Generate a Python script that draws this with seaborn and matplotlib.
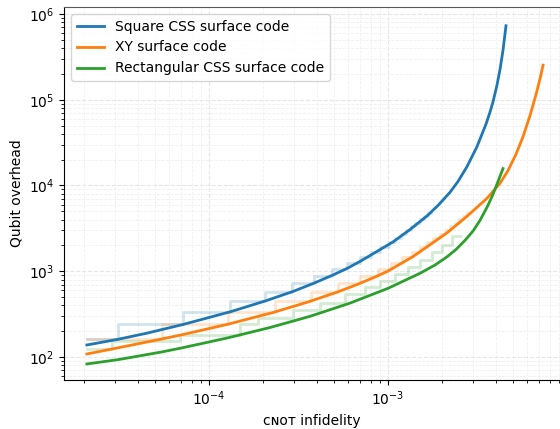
import matplotlib
matplotlib.use("Agg")
import matplotlib.pyplot as plt
import numpy as np
import pandas as pd
import seaborn as sns

# ---------------- data ----------------
series_names = ["Square CSS surface code", "XY surface code", "Rectangular CSS surface code"]
series_colors = ["#1f77b4", "#ff7f0e", "#2ca02c"]

# smooth curves: CNOT infidelity -> qubit overhead
square_p = [2.08e-5, 3.11e-5, 4.503e-5, 7.13e-5, 1.327e-4, 2.08e-4, 2.96e-4, 3.86e-4, 4.99e-4,
            5.977e-4, 7.066e-4, 1.066e-3, 1.327e-3, 1.651e-3, 1.902e-3, 2.22e-3, 2.46e-3,
            2.762e-3, 3.142e-3, 3.527e-3, 3.714e-3, 3.86e-3, 4.063e-3, 4.224e-3, 4.39e-3,
            4.563e-3]
square_q = [138, 160.9, 189.5, 238.7, 338.4, 452.3, 583, 725.5, 914,
            1091, 1320, 2193, 3060, 4410, 5838, 8321, 11120,
            16560, 28350, 51860, 71590, 94150, 147800, 224700, 376300,
            728600]

xy_p = [2.08e-5, 3.11e-5, 5.46e-5, 7.13e-5, 1.276e-4, 2.278e-4, 3.57e-4, 5.19e-4, 6.80e-4,
        8.45e-4, 1.0e-3, 1.38e-3, 2.14e-3, 2.76e-3, 3.57e-3, 4.22e-3, 4.68e-3, 5.19e-3,
        5.68e-3, 6.21e-3, 6.71e-3, 7.07e-3, 7.35e-3]
xy_q = [108.4, 128.0, 162.2, 182.5, 241, 330, 437.3, 569.7, 706.3,
        855, 1004, 1482, 2808, 4362, 7071, 10565, 14900, 23140,
        37030, 65070, 114400, 175800, 252600]

rect_p = [2.08e-5, 3.11e-5, 5.46e-5, 7.13e-5, 1.276e-4, 2.19e-4, 3.666e-4, 6.13e-4, 1.0e-3,
          1.51e-3, 1.83e-3, 2.136e-3, 2.398e-3, 2.69e-3, 2.99e-3, 3.266e-3, 3.57e-3,
          3.811e-3, 4.063e-3, 4.39e-3]
rect_q = [82.9, 93.1, 114.5, 128.2, 167.2, 220.4, 297.8, 424.4, 631.7,
          946.4, 1181, 1471, 1792, 2283, 2954, 3916, 5545,
          7399, 10350, 15740]

# faint staircases (integer code distances): step edges and levels
square_step_p = [2.08e-5, 3.11e-5, 7.2e-5, 1.318e-4, 2.068e-4, 2.928e-4, 3.86e-4, 4.897e-4,
                 5.902e-4, 6.976e-4, 8.035e-4, 9.02e-4, 1.013e-3, 1.101e-3, 1.182e-3, 1.261e-3,
                 1.344e-3, 1.424e-3, 1.51e-3, 1.589e-3, 1.673e-3, 1.739e-3]
square_step_q = [161, 241, 337, 449, 577, 721, 881, 1057,
                 1249, 1457, 1681, 1921, 2177, 2449, 2737, 3041,
                 3361, 3697, 4049, 4417, 4801, 4801]

xy_step_p = [2.08e-5, 5.46e-5, 1.276e-4, 2.351e-4, 3.704e-4, 5.277e-4, 6.976e-4, 8.748e-4,
             1.043e-3, 1.197e-3, 1.362e-3, 1.503e-3, 1.645e-3, 1.793e-3, 1.942e-3, 2.09e-3,
             2.22e-3, 2.356e-3, 2.493e-3, 2.624e-3, 2.76e-3, 2.871e-3]
xy_step_q = [161, 241, 337, 449, 577, 721, 881, 1057,
             1249, 1457, 1681, 1921, 2177, 2449, 2737, 3041,
             3361, 3697, 4049, 4417, 4801, 4801]

rect_step_p = [2.08e-5, 2.86e-5, 6.89e-5, 1.49e-4, 1.878e-4, 2.96e-4, 4.17e-4, 5.75e-4, 7.44e-4,
               9.02e-4, 1.094e-3, 1.293e-3, 1.51e-3, 1.761e-3, 2.003e-3, 2.277e-3, 2.52e-3]
rect_step_q = [125, 153, 181, 241, 285, 353, 425, 545, 655,
               769, 929, 1121, 1353, 1679, 2025, 2575, 2575]

x_label = "ᴄɴᴏᴛ infidelity"
y_label = "Qubit overhead"

# ---------------- figure ----------------
plt.rcParams["font.family"] = ["DejaVu Sans"]

fig = plt.figure(figsize=(5.6, 4.29), dpi=100)
ax = fig.add_axes([64 / 560, 1 - 380 / 429, 1 - 64 / 560, (380 - 7) / 429])

curves = pd.concat([
    pd.DataFrame({"p": square_p, "q": square_q, "code": series_names[0]}),
    pd.DataFrame({"p": xy_p, "q": xy_q, "code": series_names[1]}),
    pd.DataFrame({"p": rect_p, "q": rect_q, "code": series_names[2]}),
])

steps = [(square_step_p, square_step_q), (xy_step_p, xy_step_q), (rect_step_p, rect_step_q)]
for (sp, sq), c in zip(steps, series_colors):
    sns.lineplot(x=sp, y=sq, ax=ax, color=c, alpha=0.2, lw=2, drawstyle="steps-post",
                 estimator=None, legend=False, zorder=2)

sns.lineplot(data=curves, x="p", y="q", hue="code", hue_order=series_names,
             palette=series_colors, lw=2, estimator=None, ax=ax, zorder=3)

ax.set_xscale("log")
ax.set_yscale("log")
ax.set_xlim(1.55e-5, 9.14e-3)
ax.set_ylim(53.9, 1.206e6)

ax.grid(True, which="major", color="0.9", lw=0.8, ls="--")
ax.grid(True, which="minor", color="0.94", lw=0.6, ls="--")
ax.set_axisbelow(True)

ax.spines["right"].set_visible(False)
ax.spines["top"].set_color("0.35")
ax.tick_params(which="major", direction="out", length=3.5, width=0.8, labelsize=10)
ax.tick_params(which="minor", direction="out", length=2, width=0.6)

ax.set_xlabel(x_label, fontsize=10)
ax.set_ylabel(y_label, fontsize=10)

handles, labels = ax.get_legend_handles_labels()
keep = [(h, l) for h, l in zip(handles, labels) if l in series_names]
ax.legend([h for h, _ in keep], [l for _, l in keep], loc="upper left", fontsize=10,
          frameon=True, framealpha=0.8, edgecolor="0.8", fancybox=True)

fig.savefig("out.png", dpi=100)
